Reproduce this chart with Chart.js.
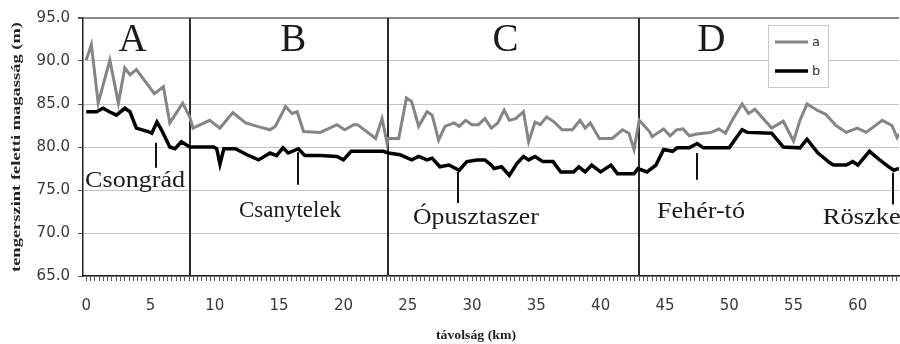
<!DOCTYPE html>
<html>
<head>
<meta charset="utf-8">
<script src="https://cdn.jsdelivr.net/npm/chart.js@4/dist/chart.umd.min.js"></script>
<style>
  body { margin: 0; background: #fff; }
  #wrap { width: 900px; height: 344px; }
</style>
</head>
<body>
<div id="wrap"><canvas id="chart" width="900" height="344"></canvas></div>
<script>
// profile "a" (grey) - distance km / height m
const kmA = [0, 0.4, 0.93, 1.84, 2.5, 3.0, 3.4, 3.9, 5.3, 6.0, 6.5, 7.5, 8.05, 8.3, 9.6, 10.4,
  11.4, 12.4, 13.3, 14.3, 14.7, 15.5, 16.0, 16.4, 16.9, 18.2, 19.5, 20.1, 20.8, 21.1, 22.5, 23.0,
  23.4, 23.5, 24.3, 24.9, 25.3, 25.85, 26.5, 26.9, 27.4, 27.9, 28.6, 29.0, 29.5, 30.0, 30.5, 31.0,
  31.5, 32.0, 32.5, 32.9, 33.4, 34.0, 34.4, 34.9, 35.3, 35.8, 36.4, 37.0, 37.8, 38.4, 38.8, 39.2,
  39.9, 40.9, 41.7, 42.2, 42.6, 43.0, 43.8, 44.0, 44.9, 45.4, 45.9, 46.4, 46.9, 47.5, 48.6, 49.2,
  49.7, 50.3, 51.0, 51.5, 52.0, 52.7, 53.3, 54.2, 55.0, 55.5, 56.05, 56.8, 57.5, 58.3, 59.1, 59.95,
  60.65, 61.9, 62.65, 63.05, 63.2];
const heightA = [90.1, 91.9, 85.1, 90.1, 85.1, 89.2, 88.4, 89.0, 86.2, 87.0, 82.8, 85.1, 83.5, 82.2, 83.1, 82.2,
  84.0, 82.8, 82.4, 82.0, 82.4, 84.7, 83.9, 84.1, 81.8, 81.7, 82.6, 82.0, 82.6, 82.6, 81.0, 83.3,
  80.4, 81.0, 81.0, 85.7, 85.3, 82.4, 84.1, 83.7, 80.8, 82.4, 82.8, 82.4, 83.1, 82.6, 82.6, 83.3,
  82.2, 82.8, 84.3, 83.1, 83.3, 84.1, 80.6, 82.9, 82.6, 83.5, 82.9, 82.0, 82.0, 83.1, 82.2, 82.8,
  81.0, 81.0, 82.0, 81.6, 79.7, 83.1, 81.8, 81.2, 82.1, 81.3, 82.0, 82.1, 81.3, 81.5, 81.7, 82.1,
  81.6, 83.3, 85.0, 83.9, 84.4, 83.2, 82.2, 83.0, 80.7, 83.1, 85.0, 84.3, 83.8, 82.5, 81.7, 82.2,
  81.7, 83.1, 82.5, 81.1, 81.5];

// profile "b" (black)
const kmB = [0, 0.8, 1.3, 1.8, 2.35, 3.0, 3.4, 3.9, 4.8, 5.1, 5.5, 5.85, 6.5, 6.9, 7.4, 8.05,
  9.9, 10.15, 10.4, 10.7, 11.6, 12.5, 13.4, 14.3, 14.8, 15.3, 15.7, 16.5, 17.0, 18.2, 19.5, 20.0,
  20.6, 23.1, 23.5, 24.4, 25.3, 25.85, 26.5, 26.9, 27.5, 28.2, 29.0, 29.6, 30.4, 31.0, 31.5, 31.7,
  32.3, 32.9, 33.5, 34.0, 34.4, 34.9, 35.5, 36.3, 36.9, 37.9, 38.3, 38.8, 39.3, 40.0, 40.8, 41.3,
  42.6, 42.9, 43.6, 44.3, 44.9, 45.6, 45.95, 46.9, 47.5, 48.0, 50.0, 50.6, 51.0, 51.4, 53.3, 54.2,
  55.5, 56.05, 56.9, 57.8, 58.1, 59.1, 59.6, 60.0, 60.9, 61.7, 62.4, 62.8, 63.2];
const heightB = [84.1, 84.1, 84.5, 84.1, 83.7, 84.5, 84.1, 82.2, 81.8, 81.6, 82.9, 82.0, 80.0, 79.8, 80.6, 80.0,
  80.0, 79.8, 78.0, 79.8, 79.8, 79.1, 78.5, 79.3, 79.0, 79.9, 79.3, 79.8, 79.0, 79.0, 78.9, 78.5,
  79.5, 79.5, 79.3, 79.1, 78.5, 78.9, 78.5, 78.7, 77.7, 77.9, 77.3, 78.3, 78.5, 78.5, 77.9, 77.5,
  77.7, 76.7, 78.1, 78.9, 78.5, 78.9, 78.3, 78.3, 77.1, 77.1, 77.7, 77.1, 77.9, 77.1, 77.9, 76.9,
  76.9, 77.5, 77.1, 77.9, 79.7, 79.5, 79.9, 79.9, 80.4, 79.9, 79.9, 81.2, 82.0, 81.7, 81.6, 80.0,
  79.9, 80.9, 79.3, 78.2, 77.9, 77.9, 78.3, 77.9, 79.5, 78.5, 77.7, 77.3, 77.5];

// section borders and letters
const sectionKm = [8.1, 23.5, 43.0];
const sectionNames = ['A', 'B', 'C', 'D'];
const sectionLabelKm = [3.6, 16.1, 32.6, 48.6];

// towns along the profile
const placeNames = ['Csongrád', 'Csanytelek', 'Ópusztaszer', 'Fehér-tó', 'Röszke'];
const placeKm = [5.4, 16.5, 28.9, 47.5, 62.7];

const yTicks = [65, 70, 75, 80, 85, 90, 95];
const xTitle = 'távolság (km)';
const yTitle = 'tengerszint feletti magasság (m)';

const serif = '"Liberation Serif", "DejaVu Serif", serif';
const sans = '"DejaVu Sans", sans-serif';

const toXY = (xs, ys) => xs.map((x, i) => ({ x: x, y: ys[i] }));

// text / tick layout for the town markers (axis units, label width in px)
const placeLayout = [
  { tick: [80.5, 77.6], label: [3.8, 76.1], w: 100 },
  { tick: [79.4, 75.6], label: [15.85, 72.6], w: 102 },
  { tick: [77.1, 73.5], label: [30.3, 71.8], w: 126 },
  { tick: [79.3, 76.2], label: [47.8, 72.5], w: 88 },
  { tick: [77.0, 73.3], label: [60.3, 71.8], w: 78 }
];

// draws text squeezed/stretched to a given width
function fitText(ctx, text, cx, cy, w, angle) {
  ctx.save();
  ctx.translate(cx, cy);
  ctx.rotate(angle);
  ctx.scale(w / ctx.measureText(text).width, 1);
  ctx.fillText(text, 0, 0);
  ctx.restore();
}

const overlay = {
  id: 'overlay',
  beforeDatasetsDraw(chart) {
    const { ctx, chartArea, scales: { x } } = chart;
    ctx.save();
    ctx.strokeStyle = '#2a2a2a';
    ctx.lineWidth = 2;
    sectionKm.forEach(k => {
      const px = Math.round(x.getPixelForValue(k));
      ctx.beginPath();
      ctx.moveTo(px, chartArea.top);
      ctx.lineTo(px, chartArea.bottom);
      ctx.stroke();
    });
    ctx.restore();
  },
  afterDatasetsDraw(chart) {
    const { ctx, scales: { x, y } } = chart;
    ctx.save();
    ctx.fillStyle = '#1a1a1a';
    ctx.textAlign = 'center';
    ctx.textBaseline = 'middle';
    ctx.font = '39px ' + serif;
    sectionNames.forEach((s, i) => {
      ctx.fillText(s, x.getPixelForValue(sectionLabelKm[i]), y.getPixelForValue(92.3));
    });

    ctx.font = '23px ' + serif;
    ctx.strokeStyle = '#111';
    ctx.lineWidth = 2;
    placeNames.forEach((name, i) => {
      const l = placeLayout[i];
      const px = Math.round(x.getPixelForValue(placeKm[i]));
      ctx.beginPath();
      ctx.moveTo(px, y.getPixelForValue(l.tick[0]));
      ctx.lineTo(px, y.getPixelForValue(l.tick[1]));
      ctx.stroke();
      fitText(ctx, name, x.getPixelForValue(l.label[0]), y.getPixelForValue(l.label[1]), l.w, 0);
    });

    // axis titles
    ctx.fillStyle = '#222';
    ctx.font = 'bold 13px ' + serif;
    fitText(ctx, xTitle, 476, 336, 80, 0);
    fitText(ctx, yTitle, 17, 147, 250, -Math.PI / 2);

    // legend box
    const lx = 768, ly = 25;
    ctx.fillStyle = '#fff';
    ctx.fillRect(lx, ly, 60, 62);
    ctx.strokeStyle = '#c8c8c8';
    ctx.lineWidth = 1;
    ctx.strokeRect(lx + 0.5, ly + 0.5, 60, 62);
    ctx.font = '13px ' + sans;
    ctx.textAlign = 'left';
    chart.data.datasets.forEach((ds, i) => {
      const yy = ly + 17 + i * 29;
      ctx.strokeStyle = ds.borderColor;
      ctx.lineWidth = ds.borderWidth;
      ctx.beginPath();
      ctx.moveTo(lx + 7, yy);
      ctx.lineTo(lx + 40, yy);
      ctx.stroke();
      ctx.fillStyle = '#333';
      ctx.fillText(ds.label, lx + 44, yy + 1);
    });
    ctx.restore();
  }
};

new Chart(document.getElementById('chart'), {
  type: 'line',
  data: {
    datasets: [
      { label: 'a', data: toXY(kmA, heightA), borderColor: '#858585', borderWidth: 3, pointRadius: 0, tension: 0 },
      { label: 'b', data: toXY(kmB, heightB), borderColor: '#000', borderWidth: 3.5, pointRadius: 0, tension: 0 }
    ]
  },
  options: {
    responsive: false,
    animation: false,
    layout: { padding: { top: 18, right: 1, left: 0, bottom: 0 } },
    plugins: { legend: { display: false }, tooltip: { enabled: false } },
    scales: {
      x: {
        type: 'linear',
        min: -0.25,
        max: 63.2,
        afterFit: s => { s.height = 68; s.paddingLeft = 0; s.paddingRight = 0; },
        border: { color: '#222', width: 1.5 },
        grid: { drawOnChartArea: false, drawTicks: true, tickLength: 5, color: '#555', tickColor: '#555' },
        ticks: {
          stepSize: 1 / 3,
          includeBounds: false,
          autoSkip: false,
          maxRotation: 0,
          padding: 16,
          color: '#3a3a3a',
          font: { family: sans, size: 15 },
          callback: v => {
            const r = Math.round(v / 5) * 5;
            return Math.abs(v - r) < 1e-6 ? String(r) : '';
          }
        }
      },
      y: {
        min: 65,
        max: 95,
        afterFit: s => { s.width = 83; },
        afterBuildTicks: s => { s.ticks = yTicks.map(v => ({ value: v })); },
        border: { color: '#222', width: 1.5 },
        grid: {
          color: c => c.tick && c.tick.value === 95 ? '#8a8a8a' : '#c4c4c4',
          lineWidth: c => c.tick && c.tick.value === 95 ? 2 : 1,
          tickLength: 5,
          tickColor: '#555'
        },
        ticks: {
          padding: 8,
          color: '#3a3a3a',
          font: { family: sans, size: 15 },
          callback: v => v.toFixed(1)
        }
      }
    }
  },
  plugins: [overlay]
});
</script>
</body>
</html>
